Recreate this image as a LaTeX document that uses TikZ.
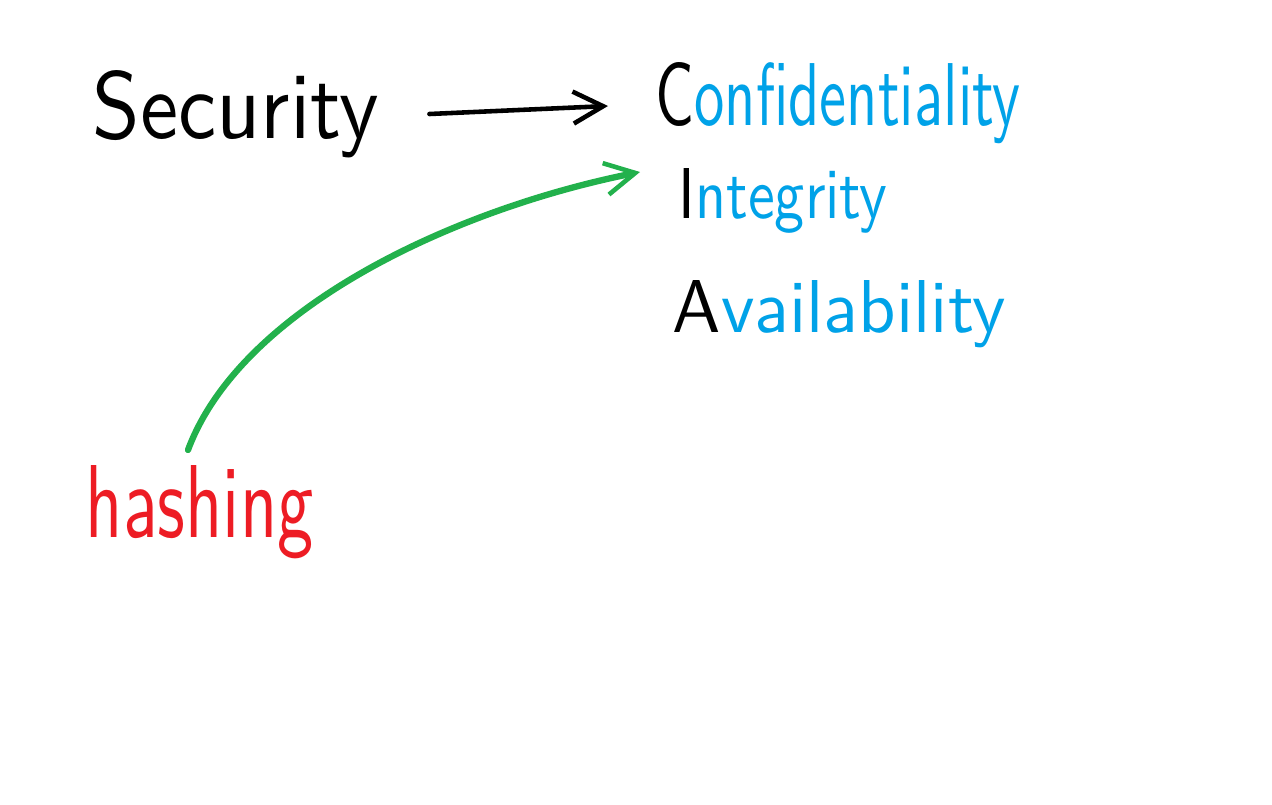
\documentclass[tikz,border=0pt]{standalone}
\usepackage{graphicx}
\usetikzlibrary{arrows.meta}
\definecolor{cblue}{RGB}{0,162,232}
\definecolor{cred}{RGB}{237,28,36}
\definecolor{cgreen}{RGB}{34,177,76}
\tikzset{
  word/.style={inner sep=0pt, anchor=base west, font=\sffamily},
  arr/.style={line width=1.3pt, line cap=round, -{Straight Barb[length=3mm,width=3.2mm,line width=1.3pt]}}
}
\begin{document}
\begin{tikzpicture}
\fill[white] (0,0) rectangle (12.72,-8.05);
\useasboundingbox (0,0) rectangle (12.72,-8.05);
\node[word] (sec) at (0.92,-1.38) {\resizebox{2.86cm}{0.68cm}{Security}};
\node[word] (conf) at (6.55,-1.25) {\resizebox{3.65cm}{0.63cm}{C\textcolor{cblue}{onfidentiality}}};
\node[word] (integ) at (6.78,-2.18) {\resizebox{2.09cm}{0.50cm}{I\textcolor{cblue}{ntegrity}}};
\node[word] (avail) at (6.72,-3.32) {\resizebox{3.33cm}{0.52cm}{A\textcolor{cblue}{vailability}}};
\node[word, text=cred] (hash) at (0.85,-5.37) {\resizebox{2.28cm}{0.72cm}{hashing}};
\draw[arr] ([shift={(0.50,0.24)}]sec.base east) -- ([shift={(-0.47,0.19)}]conf.base west);
\draw[arr, cgreen, line width=1.8pt] ([shift={(1.03,0.87)}]hash.base west)
  .. controls (2.4,-3.1) and (4.5,-2.1) .. ([shift={(-0.38,0.46)}]integ.base west);
\end{tikzpicture}
\end{document}
